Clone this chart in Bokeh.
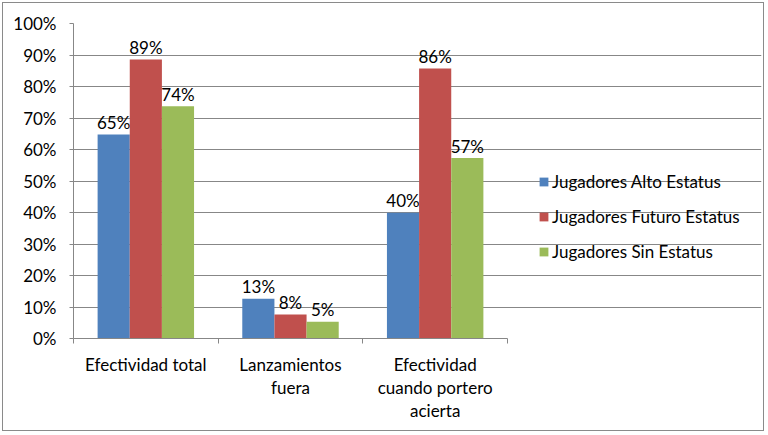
import numpy as np
from bokeh.plotting import figure
from bokeh.models import (ColumnDataSource, FixedTicker, NumeralTickFormatter,
                          Legend, LegendItem, Range1d)
from bokeh.core.properties import value
from bokeh.embed import file_html
from bokeh.resources import INLINE

# ---------------- data ----------------
categories = ["Efectividad total", "Lanzamientos fuera",
              "Efectividad cuando portero acierta"]
category_labels = ["Efectividad total", "Lanzamientos\nfuera",
                   "Efectividad\ncuando portero\nacierta"]
series = ["Jugadores Alto Estatus", "Jugadores Futuro Estatus",
          "Jugadores Sin Estatus"]
alto = [0.648, 0.126, 0.399]
futuro = [0.886, 0.076, 0.857]
sin_estatus = [0.737, 0.053, 0.573]
y_ticks = [0.0, 0.1, 0.2, 0.3, 0.4, 0.5, 0.6, 0.7, 0.8, 0.9, 1.0]

# ---------------- style ----------------
colors = ["#4F81BD", "#C0504D", "#9BBB59"]
FONT = "Lato"
FS = "17px"
TXT = "#000000"
GRID = "#878787"

W, H = 762, 429
FL, FR, FT, FB = 70, 504, 20, 335   # plot-area edges in figure px
FR_FULL = W - 4                      # frame extended so the legend fits inside it

n = len(categories)
x_end = n * (FR_FULL - FL) / (FR - FL)

p = figure(width=W, height=H, x_range=Range1d(0, x_end),
           y_range=Range1d(0, 1), output_backend="svg", toolbar_location=None,
           min_border_left=FL, min_border_right=W - FR_FULL,
           min_border_top=FT, min_border_bottom=H - FB)
p.styles = {"border": "1px solid #8A8A8A", "margin": "2px"}
p.outline_line_color = None
p.background_fill_color = "white"
p.border_fill_color = "white"

x_center = np.arange(n) + 0.5
bw = 1 / 4.5
renderers = []
for k, (name, vals, c) in enumerate(zip(series, [alto, futuro, sin_estatus], colors)):
    xs = x_center + (k - 1) * bw
    src = ColumnDataSource(dict(x=xs, top=vals,
                                label=[f"{int(v * 100 + 0.5)}%" for v in vals]))
    r = p.vbar(x="x", top="top", bottom=0, width=bw, source=src,
               fill_color=c, line_color=None)
    p.text(x="x", y="top", text="label", source=src, text_align="center",
           text_baseline="middle", y_offset=-12, text_font=value(FONT),
           text_font_size=FS, text_color=TXT)
    renderers.append(r)

# y axis
p.yaxis.ticker = FixedTicker(ticks=y_ticks)
p.yaxis.formatter = NumeralTickFormatter(format="0%")
p.yaxis.major_tick_out = 4
p.yaxis.major_tick_in = 0
p.yaxis.minor_tick_out = 0
p.yaxis.minor_tick_in = 0
p.yaxis.major_label_standoff = 13
p.yaxis.axis_line_color = GRID
p.yaxis.major_tick_line_color = GRID
p.yaxis.major_label_text_font = FONT
p.yaxis.major_label_text_font_size = FS
p.yaxis.major_label_text_color = TXT

# x axis
p.xaxis.bounds = (0, n)
p.xaxis.ticker = FixedTicker(ticks=list(x_center),
                             minor_ticks=list(range(n + 1)))
p.xaxis.major_label_overrides = {float(x): lbl for x, lbl in zip(x_center, category_labels)}
p.xaxis.major_tick_out = 0
p.xaxis.major_tick_in = 0
p.xaxis.minor_tick_out = 5
p.xaxis.minor_tick_in = 0
p.xaxis.minor_tick_line_color = GRID
p.xaxis.axis_line_color = GRID
p.xaxis.major_label_standoff = 10
p.xaxis.major_label_text_font = FONT
p.xaxis.major_label_text_font_size = FS
p.xaxis.major_label_text_color = TXT
p.xaxis.major_label_text_line_height = 1.1

p.xgrid.grid_line_color = None
p.ygrid.grid_line_color = GRID
p.ygrid.ticker = FixedTicker(ticks=y_ticks)
p.ygrid.bounds = (0, n)

legend = Legend(items=[LegendItem(label=s, renderers=[r]) for s, r in zip(series, renderers)],
                location=(465, 76), orientation="vertical",
                glyph_width=11, glyph_height=11, label_standoff=3,
                label_height=20, spacing=14, padding=0, margin=0,
                border_line_color=None, background_fill_alpha=0,
                label_text_font=FONT, label_text_font_size=FS,
                label_text_color=TXT)
p.add_layout(legend)

open("out.html", "w").write(file_html(p, INLINE))
